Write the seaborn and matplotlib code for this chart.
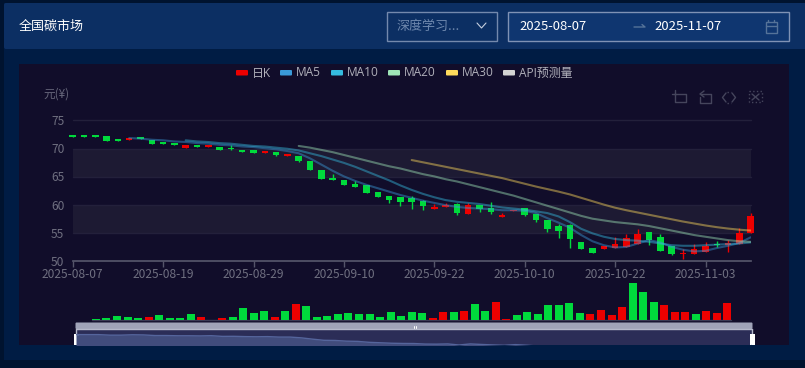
import numpy as np
import pandas as pd
import seaborn as sns
import matplotlib.pyplot as plt
from matplotlib.patches import Rectangle, FancyBboxPatch

# trading days, the chart skips the october holiday
dates = [d for d in pd.bdate_range("2025-08-07", "2025-11-07").strftime("%Y-%m-%d")
         if not "2025-10-01" <= d <= "2025-10-08"]
tick_labels = ["2025-08-07", "2025-08-19", "2025-08-29", "2025-09-10",
               "2025-09-22", "2025-10-10", "2025-10-22", "2025-11-03"]
y_ticks = [50, 55, 60, 65, 70, 75]

open_price = [72.3, 72.3, 72.1, 72.2, 71.4, 71.5, 71.8, 71.4, 71.1, 70.9,
              70.0, 70.5, 70.2, 70.3, 69.9, 69.7, 69.6, 69.2, 69.4, 68.65,
              68.7, 67.8, 66.2, 64.6, 64.4, 63.7, 63.4, 62.2, 61.6, 61.4,
              61.2, 60.7, 59.3, 59.6, 60.1, 58.4, 60.0, 59.4, 57.8, 58.8,
              59.4, 58.3, 57.2, 56.2, 56.3, 53.3, 52.3, 52.1, 52.3, 52.4,
              53.1, 55.2, 54.3, 52.7, 51.2, 51.2, 51.6, 53.1, 52.8, 53.1, 55.0]
close_price = [72.0, 72.0, 72.0, 71.3, 71.3, 71.8, 71.6, 70.8, 70.8, 70.5,
               70.5, 70.3, 70.6, 69.7, 69.8, 69.4, 69.2, 69.4, 68.8, 68.8,
               67.8, 66.1, 64.6, 64.4, 63.5, 63.2, 62.0, 61.4, 60.8, 60.5,
               60.4, 59.7, 59.6, 59.9, 58.5, 59.9, 59.2, 58.6, 58.1, 59.0,
               58.2, 57.2, 55.7, 55.4, 53.9, 52.2, 51.4, 52.7, 53.0, 54.0,
               54.8, 53.7, 51.7, 51.2, 51.3, 52.1, 52.7, 52.8, 53.2, 55.0, 57.9]
high_price = [72.3, 72.3, 72.1, 72.2, 71.4, 71.8, 71.8, 71.4, 71.1, 70.9,
              70.5, 70.5, 70.6, 70.3, 70.5, 69.7, 69.6, 69.4, 69.4, 68.9,
              68.7, 67.8, 66.2, 65.4, 64.4, 64.2, 63.4, 62.2, 61.6, 61.4,
              61.6, 60.9, 60.1, 60.2, 60.3, 60.2, 60.0, 60.5, 58.5, 59.1,
              59.4, 58.3, 57.2, 56.5, 56.5, 53.3, 52.3, 52.7, 54.3, 54.7,
              55.7, 55.2, 54.7, 52.7, 52.1, 53.0, 53.4, 53.6, 53.7, 55.8, 58.5]
low_price = [72.0, 72.0, 72.0, 71.3, 71.3, 71.5, 71.6, 70.8, 70.8, 70.5,
             70.0, 70.3, 70.2, 69.7, 69.6, 69.4, 69.2, 69.2, 68.6, 68.65,
             67.5, 66.1, 64.6, 64.3, 63.5, 63.2, 62.0, 61.4, 60.2, 59.8,
             59.3, 59.1, 59.3, 59.6, 58.2, 58.4, 58.7, 58.4, 57.8, 58.8,
             58.0, 56.9, 55.2, 54.1, 52.3, 52.2, 51.4, 52.1, 52.3, 52.4,
             53.1, 52.9, 51.7, 51.1, 50.4, 51.2, 51.6, 52.4, 51.6, 53.1, 55.0]

ma5 = [71.8, 71.7, 71.5, 71.4, 71.2, 71.1, 70.9, 70.8, 70.6, 70.5,
       70.3, 70.2, 70.0, 69.8, 69.5, 69.1, 68.2, 67.1, 66.0, 65.0,
       64.2, 63.5, 62.9, 62.3, 61.7, 61.2, 60.7, 60.3, 59.9, 59.6,
       59.4, 59.3, 59.2, 59.0, 59.0, 58.9, 58.5, 57.6, 56.8, 55.9,
       54.6, 53.5, 52.8, 52.4, 52.5, 53.1, 53.7, 53.3, 52.5, 52.0,
       51.7, 51.8, 52.3, 52.7, 53.2, 54.2]
ma10 = [71.4, 71.2, 71.1, 70.9, 70.8, 70.6, 70.4, 70.3, 70.1, 69.9,
        69.6, 69.1, 68.6, 68.0, 67.4, 66.7, 65.9, 65.1, 64.3, 63.4,
        62.6, 61.9, 61.3, 60.8, 60.5, 60.3, 60.1, 59.8, 59.5, 59.3,
        59.1, 58.8, 58.5, 57.9, 56.9, 55.7, 54.9, 54.3, 53.9, 53.7,
        53.6, 53.4, 53.1, 52.8, 52.7, 52.7, 52.8, 52.9, 53.0, 53.1, 53.3]
ma20 = [70.4, 70.1, 69.7, 69.3, 68.8, 68.3, 67.8, 67.3, 66.8, 66.4,
        65.9, 65.4, 65.0, 64.5, 64.1, 63.6, 63.1, 62.6, 62.1, 61.6,
        61.0, 60.4, 59.8, 59.2, 58.6, 58.0, 57.5, 57.2, 56.9, 56.7,
        56.5, 56.2, 55.8, 55.4, 55.0, 54.6, 54.3, 54.0, 53.7, 53.5, 53.4]
ma30 = [67.9, 67.5, 67.1, 66.7, 66.3, 65.9, 65.5, 65.1, 64.7, 64.2,
        63.7, 63.2, 62.75, 62.3, 61.8, 61.2, 60.6, 60.0, 59.45, 59.0,
        58.6, 58.2, 57.8, 57.4, 57.0, 56.65, 56.3, 56.0, 55.75, 55.55, 55.4]

volume = [3, 6, 13, 8, 5, 9, 15, 7, 5, 17, 9, 1, 5, 9, 36, 20, 26, 8, 26, 47,
          42, 8, 11, 18, 21, 17, 18, 9, 24, 11, 23, 21, 5, 25, 23, 27, 48, 28, 54, 4,
          15, 25, 17, 45, 44, 50, 20, 17, 31, 14, 38, 112, 83, 53, 45, 23, 24, 19, 27, 22, 50]

legend_names = ["日K", "MA5", "MA10", "MA20", "MA30", "API预测量"]
legend_colors = ["#ec0000", "#3a9ad9", "#35bce0", "#9fe6b8", "#ffdb5c", "#d3d3d3"]
legend_rect_x = [236, 280, 331, 388, 446, 503]

UP, DOWN = "#ec0000", "#00da3c"
W, H = 805, 368

sns.set_theme(style="dark")
plt.rcParams['font.family'] = ['Noto Sans CJK SC', 'DejaVu Sans']
plt.rcParams['axes.unicode_minus'] = False

df = pd.DataFrame({"date": dates, "open": open_price, "close": close_price,
                   "high": high_price, "low": low_price, "volume": volume})
df["i"] = range(len(df))
df["dir"] = np.where(df["close"] >= df["open"], "up", "down")
colors = df["dir"].map({"up": UP, "down": DOWN})


def px_axes(left, top, right, bottom):
    return fig.add_axes([left / W, 1 - bottom / H, (right - left) / W, (bottom - top) / H])


fig = plt.figure(figsize=(W / 100, H / 100), dpi=100, facecolor="#00132f")

# page chrome in pixel coordinates
bg = fig.add_axes([0, 0, 1, 1])
bg.set_xlim(0, W)
bg.set_ylim(H, 0)
bg.axis("off")
bg.add_patch(Rectangle((4, 3), W, 357, fc="#001c44", lw=0))
bg.add_patch(FancyBboxPatch((6, 5), W, 42, boxstyle="round,pad=2", fc="#0c2f63", lw=0))
bg.add_patch(Rectangle((19, 64), 770, 281, fc="#110d2a", lw=0))
bg.add_patch(Rectangle((386.5, 11.5), 110, 29, fc="#0c2f63", ec="#7489ad", lw=1))
bg.add_patch(Rectangle((507.5, 11.5), 281, 29, fc="#0f3670", ec="#7f92b5", lw=1))
bg.text(19, 26, "全国碳市场", color="white", fontsize=9.4, va="center")
bg.text(397, 26.5, "深度学习...", color="#6d87ad", fontsize=9.4, va="center")
bg.text(519, 26.5, "2025-08-07", color="white", fontsize=9.4, va="center")
bg.text(654, 26.5, "2025-11-07", color="white", fontsize=9.4, va="center")
bg.plot([477, 481.5, 486], [23, 28, 23], color="#c5cfdf", lw=0.8)
bg.plot([634, 645, 642], [27, 27, 24.5], color="#557399", lw=1)
bg.add_patch(Rectangle((765.5, 22), 11, 10.5, fc="none", ec="#557399", lw=1))
bg.plot([765.5, 776.5], [25.5, 25.5], color="#557399", lw=1)
bg.plot([768, 768], [20, 22], color="#557399", lw=1)
bg.plot([774, 774], [20, 22], color="#557399", lw=1)

# grid bands of the price chart
for lo_y, hi_y in [(148.5, 177), (205, 233)]:
    bg.add_patch(Rectangle((72.7, lo_y), 678, hi_y - lo_y, fc="#1d1a33", lw=0))
for y in [120, 148.5, 177, 205, 233]:
    bg.plot([72.7, 750.7], [y, y], color="#23203b", lw=1)

# legend
for name, color, x in zip(legend_names, legend_colors, legend_rect_x):
    bg.add_patch(FancyBboxPatch((x + 1, 71), 10, 3.5, boxstyle="round,pad=1", fc=color, lw=0))
    bg.text(x + 16, 73, name, color="#b0b0ba", fontsize=8.6, va="center",
            family=['Open Sans', 'Noto Sans CJK SC'])
bg.text(43, 94, "元(¥)", color="#66667a", fontsize=8.4, va="center")

# toolbox icons
icon = dict(color="#45455c", lw=1)
bg.plot([675, 675, 686, 686, 672], [90, 102, 102, 94, 94], **icon)
bg.plot([701, 711, 711, 700, 700], [94, 94, 103, 103, 97], **icon)
bg.plot([704, 700, 704], [91, 94, 97], **icon)
bg.plot([727, 731], [92, 92], ls=":", **icon)
bg.plot([727, 731], [103, 103], ls=":", **icon)
bg.plot([726, 722.5, 726], [93, 97.5, 102], **icon)
bg.plot([732, 735.5, 732], [93, 97.5, 102], **icon)
bg.add_patch(Rectangle((749, 91), 13, 11, fc="none", ec="#45455c", lw=1, ls=":"))
bg.plot([752, 759], [94, 100], **icon)
bg.plot([759, 752], [94, 100], **icon)

# price chart
ax = px_axes(72.7, 120, 750.7, 261)
ax.patch.set_alpha(0)
ax.set_xlim(0, 60)
ax.set_ylim(50, 75)
ax.vlines(df["i"], df["low"], df["high"], colors=colors, lw=1, zorder=2, clip_on=False)
ax.bar(df["i"], (df["close"] - df["open"]).abs().clip(lower=0.3), bottom=df[["open", "close"]].min(axis=1),
       width=0.58, color=colors, lw=0, zorder=3, clip_on=False)
ma_series = [(ma5, legend_colors[1]), (ma10, legend_colors[2]),
             (ma20, legend_colors[3]), (ma30, legend_colors[4])]
for values, color in ma_series:
    start = len(dates) - len(values)
    sns.lineplot(x=df["i"].iloc[start:].values, y=values, color=color, alpha=0.45, lw=1.5,
                 ax=ax, legend=False, zorder=4)
ax.set_xticks(range(0, 61, 8), tick_labels)
ax.set_yticks(y_ticks)
ax.set(xlabel=None, ylabel=None)
ax.tick_params(axis="x", colors="#6f6f80", labelsize=8.6, length=4, width=1, pad=1, bottom=True, color="#55556a")
ax.tick_params(axis="y", colors="#6f6f80", labelsize=8.6, length=0, pad=6)
ax.grid(False)
for name, spine in ax.spines.items():
    spine.set_visible(name == "bottom")
ax.spines["bottom"].set_color("#55556a")

# volume chart
vax = px_axes(90.7, 282.6, 732.5, 320)
vax.patch.set_alpha(0)
sns.barplot(data=df, x="i", y="volume", hue="dir", palette={"up": UP, "down": DOWN}, saturation=1,
            native_scale=True, dodge=False, width=0.76, legend=False, ax=vax, lw=0)
vax.set_xlim(-0.5, 60.5)
vax.set_ylim(0, 112)
vax.axis("off")
bg.plot([92, 731], [320.3, 320.3], color="#3b3a55", lw=1)

# zoom slider, its shadow shows the close price
bg.add_patch(Rectangle((76, 330), 676, 15, fc="#2b2d57", lw=0))
sax = px_axes(76, 330, 752, 345)
sax.patch.set_alpha(0)
sns.lineplot(x=df["i"].values, y=close_price, color="#55659c", lw=1, ax=sax, legend=False)
sax.fill_between(df["i"], close_price, 50, color="#414c7c", lw=0)
sax.set_xlim(0, 60)
sax.set_ylim(58.5, 78)
sax.axis("off")
bg.add_patch(FancyBboxPatch((76.5, 323.5), 675, 4.5, boxstyle="round,pad=1", fc="#a0a3b8", lw=0, zorder=5))
bg.plot([76, 752], [329, 329], color="#b5b8ca", lw=1, zorder=5)
bg.plot([76, 76], [329, 335], color="#b5b8ca", lw=1, zorder=5)
bg.plot([752, 752], [329, 335], color="#b5b8ca", lw=1, zorder=5)
bg.plot([414, 414], [326, 328], color="white", lw=0.7, zorder=6)
bg.plot([416, 416], [326, 328], color="white", lw=0.7, zorder=6)
for x in [73.5, 749.5]:
    bg.add_patch(Rectangle((x, 334), 5.5, 11, fc="white", lw=0, zorder=6))
bg.set_zorder(0)
ax.set_zorder(1)
vax.set_zorder(1)
sax.set_zorder(0.5)

fig.savefig("out.png", dpi=100, facecolor=fig.get_facecolor())
